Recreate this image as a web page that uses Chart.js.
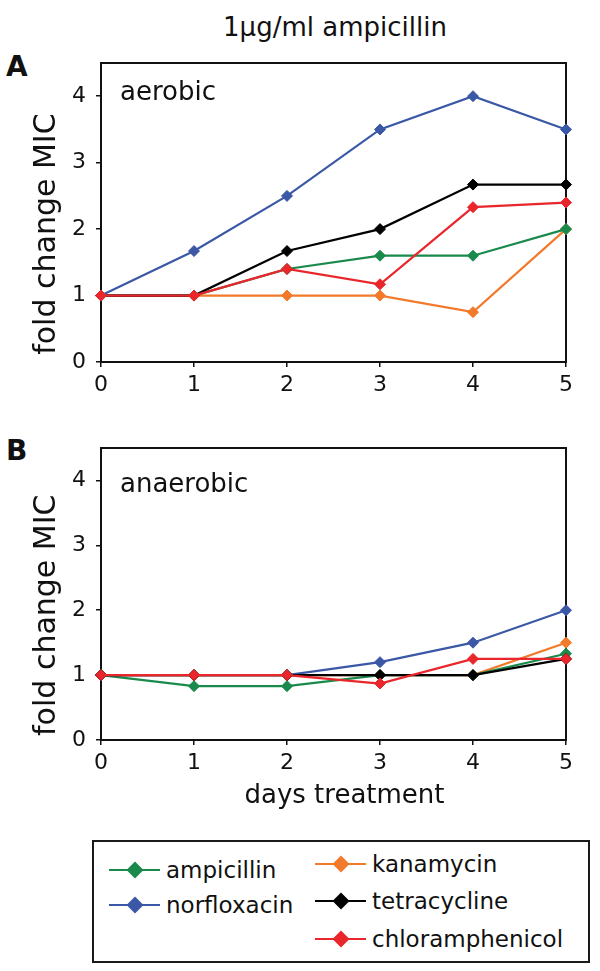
<!DOCTYPE html>
<html>
<head>
<meta charset="utf-8">
<script src="https://cdn.jsdelivr.net/npm/chart.js@4.4.1/dist/chart.umd.min.js"></script>
<style>
  html, body { margin: 0; padding: 0; background: #fff; }
  body { width: 600px; height: 971px; position: relative; overflow: hidden;
         font-family: "DejaVu Sans", Verdana, sans-serif; color: #111; }
  .abs { position: absolute; }
  #title { left: 0; width: 670px; top: 12px; text-align: center; font-size: 26px; line-height: 30px; }
  .panel { font-size: 28px; font-weight: bold; line-height: 30px; left: 6px; }
  #legend { left: 92px; top: 840px; width: 494px; height: 119px; border: 2px solid #1a1a1a; }
  .item { position: absolute; height: 30px; display: flex; align-items: center; font-size: 23px; }
  .mk { position: relative; width: 51px; height: 30px; margin-right: 6px; }
  .mk .ln { position: absolute; left: 0; right: 0; top: 14px; height: 2px; }
  .mk .dm { position: absolute; width: 12px; height: 12px; left: 19.5px; top: 9px; transform: rotate(45deg); }
</style>
</head>
<body>
<div id="title" class="abs">1μg/ml ampicillin</div>
<div class="abs panel" style="top:52px">A</div>
<div class="abs panel" style="top:436px">B</div>
<canvas id="cA" class="abs" style="left:0;top:0" width="600" height="410"></canvas>
<canvas id="cB" class="abs" style="left:0;top:410px" width="600" height="410"></canvas>
<div id="legend" class="abs"></div>

<script>
// ---- data ----
const days = [0, 1, 2, 3, 4, 5];
const xTicks = [0, 1, 2, 3, 4, 5];
const yTicks = [0, 1, 2, 3, 4];
const drugs = ['ampicillin', 'norfloxacin', 'kanamycin', 'tetracycline', 'chloramphenicol'];

// panel A: aerobic
const aerobicAmpicillin       = [1, 1,    1.4, 1.6,  1.6,  2];
const aerobicNorfloxacin      = [1, 1.67, 2.5, 3.5,  4,    3.5];
const aerobicKanamycin        = [1, 1,    1,   1,    0.75, 2];
const aerobicTetracycline     = [1, 1,    1.67, 2,   2.67, 2.67];
const aerobicChloramphenicol  = [1, 1,    1.4, 1.17, 2.33, 2.4];

// panel B: anaerobic
const anaerobicAmpicillin      = [1, 0.83, 0.83, 1,    1,    1.33];
const anaerobicNorfloxacin     = [1, 1,    1,    1.2,  1.5,  2];
const anaerobicKanamycin       = [1, 1,    1,    1,    1,    1.5];
const anaerobicTetracycline    = [1, 1,    1,    1,    1,    1.25];
const anaerobicChloramphenicol = [1, 1,    1,    0.87, 1.25, 1.25];

// ---- styles ----
const colors = {
  ampicillin: '#1a8a4c',
  norfloxacin: '#3b58a6',
  kanamycin: '#f27a2a',
  tetracycline: '#000000',
  chloramphenicol: '#e8262b'
};
const drawOrder = { chloramphenicol: 0, tetracycline: 1, ampicillin: 2, kanamycin: 3, norfloxacin: 4 };
const FONT = '"DejaVu Sans", Verdana, sans-serif';

function makeDataset(name, values) {
  return {
    label: name,
    data: days.map((d, i) => ({ x: d, y: values[i] })),
    borderColor: colors[name],
    backgroundColor: colors[name],
    pointBackgroundColor: colors[name],
    pointBorderColor: colors[name],
    borderWidth: 2.2,
    pointStyle: 'rectRot',
    pointRadius: 5.5,
    pointBorderWidth: 1,
    tension: 0,
    clip: false,
    order: drawOrder[name]
  };
}

const framePlugin = {
  id: 'frame',
  beforeDatasetsDraw(chart, args, opts) {
    const { ctx, chartArea: a } = chart;
    ctx.save();
    ctx.strokeStyle = '#111';
    ctx.lineWidth = 2;
    ctx.strokeRect(a.left, a.top, a.right - a.left, a.bottom - a.top);
    ctx.fillStyle = '#111';
    ctx.textBaseline = 'alphabetic';
    // inner label
    ctx.font = '26px ' + FONT;
    ctx.textAlign = 'left';
    ctx.fillText(opts.label, a.left + 19, a.top + opts.labelOffset);
    // x-axis title (panel B only)
    if (opts.xTitle) {
      ctx.font = '26px ' + FONT;
      ctx.textAlign = 'center';
      ctx.fillText(opts.xTitle, (a.left + a.right) / 2 + 11, a.bottom + 63);
    }
    // y-axis title
    const ys = chart.scales.y;
    const cy = (ys.getPixelForValue(yTicks[0]) + ys.getPixelForValue(yTicks[yTicks.length - 1])) / 2 + 5;
    ctx.translate(55, cy);
    ctx.rotate(-Math.PI / 2);
    ctx.font = '30px ' + FONT;
    ctx.textAlign = 'center';
    ctx.fillText(opts.yTitle, 0, 0);
    ctx.restore();
  }
};

function makeChart(canvasId, datasets, label, labelOffset, padTop, xAxisHeight, xTitle) {
  return new Chart(document.getElementById(canvasId), {
    type: 'line',
    data: { datasets },
    plugins: [framePlugin],
    options: {
      responsive: false,
      animation: false,
      devicePixelRatio: 1,
      layout: { padding: { top: padTop, right: 34, left: 0, bottom: 0 } },
      plugins: {
        legend: { display: false },
        tooltip: { enabled: false },
        frame: { label, labelOffset, yTitle: 'fold change MIC', xTitle }
      },
      scales: {
        x: {
          type: 'linear',
          min: xTicks[0],
          max: xTicks[xTicks.length - 1],
          afterBuildTicks: s => { s.ticks = xTicks.map(v => ({ value: v })); },
          afterFit: s => { s.height = xAxisHeight; },
          ticks: { font: { family: FONT, size: 22 }, color: '#111', padding: 5, maxRotation: 0 },
          grid: { display: true, drawOnChartArea: false, drawTicks: true, tickLength: 5, color: '#111', lineWidth: 1.5 },
          border: { display: false }
        },
        y: {
          type: 'linear',
          min: 0,
          max: 4.5,
          afterBuildTicks: s => { s.ticks = yTicks.map(v => ({ value: v })); },
          afterFit: s => { s.width = 101; },
          ticks: { font: { family: FONT, size: 22 }, color: '#111', padding: 10 },
          grid: { display: true, drawOnChartArea: false, drawTicks: true, tickLength: 5, color: '#111', lineWidth: 1.5 },
          border: { display: false }
        }
      }
    }
  });
}

const aerobicSets = [
  makeDataset('ampicillin', aerobicAmpicillin),
  makeDataset('norfloxacin', aerobicNorfloxacin),
  makeDataset('kanamycin', aerobicKanamycin),
  makeDataset('tetracycline', aerobicTetracycline),
  makeDataset('chloramphenicol', aerobicChloramphenicol)
];
const anaerobicSets = [
  makeDataset('ampicillin', anaerobicAmpicillin),
  makeDataset('norfloxacin', anaerobicNorfloxacin),
  makeDataset('kanamycin', anaerobicKanamycin),
  makeDataset('tetracycline', anaerobicTetracycline),
  makeDataset('chloramphenicol', anaerobicChloramphenicol)
];

makeChart('cA', aerobicSets, 'aerobic', 37, 63, 48, null);
makeChart('cB', anaerobicSets, 'anaerobic', 44, 38, 80, 'days treatment');

// ---- legend (two columns, as in the original figure) ----
const legendPos = {
  ampicillin:      { left: 15,  cy: 28 },
  norfloxacin:     { left: 15,  cy: 63 },
  kanamycin:       { left: 221, cy: 22 },
  tetracycline:    { left: 221, cy: 59 },
  chloramphenicol: { left: 221, cy: 97 }
};
const legend = document.getElementById('legend');
drugs.forEach(name => {
  const p = legendPos[name];
  const it = document.createElement('div');
  it.className = 'item';
  it.style.left = p.left + 'px';
  it.style.top = (p.cy - 15) + 'px';
  it.innerHTML = '<div class="mk"><div class="ln" style="background:' + colors[name] + '"></div>' +
                 '<div class="dm" style="background:' + colors[name] + '"></div></div><span>' + name + '</span>';
  legend.appendChild(it);
});
</script>
</body>
</html>
